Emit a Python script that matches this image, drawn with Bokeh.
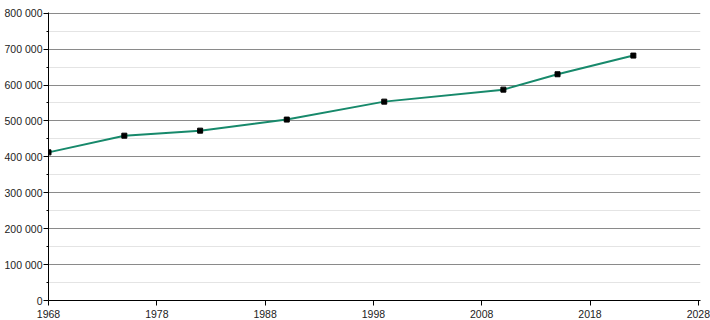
from bokeh.plotting import figure
from bokeh.models import Range1d, FixedTicker
from bokeh.embed import file_html
from bokeh.resources import INLINE

years = [1968, 1975, 1982, 1990, 1999, 2010, 2015, 2022]
population = [412500, 459000, 473000, 503800, 553800, 587200, 630000, 682000]

x_ticks = [1968, 1978, 1988, 1998, 2008, 2018, 2028]
y_ticks = [0, 100000, 200000, 300000, 400000, 500000, 600000, 700000, 800000]
y_minor = [50000, 150000, 250000, 350000, 450000, 550000, 650000, 750000]
y_labels = ["0", "100 000", "200 000", "300 000", "400 000", "500 000", "600 000", "700 000", "800 000"]

p = figure(width=710, height=320, output_backend="svg", toolbar_location=None,
           x_range=Range1d(1968, 2028.2), y_range=Range1d(0, 802000),
           min_border_left=48, min_border_right=10, min_border_top=12, min_border_bottom=20)
p.outline_line_color = None
p.background_fill_color = "white"

p.xaxis.ticker = FixedTicker(ticks=x_ticks, minor_ticks=[])
p.yaxis.ticker = FixedTicker(ticks=y_ticks, minor_ticks=y_minor)
p.yaxis.major_label_overrides = {t: l for t, l in zip(y_ticks, y_labels)}

for ax in (p.xaxis, p.yaxis):
    ax.axis_line_color = "black"
    ax.major_tick_line_color = "black"
    ax.minor_tick_line_color = "black"
    ax.major_tick_in = 0
    ax.major_tick_out = 5
    ax.minor_tick_in = 0
    ax.minor_tick_out = 2
    ax.major_label_text_font = "Liberation Sans"
    ax.major_label_text_font_size = "10.5px"
    ax.major_label_text_color = "#222222"
p.xaxis.major_label_standoff = 4
p.yaxis.major_label_standoff = 1

p.xgrid.grid_line_color = None
p.ygrid.grid_line_color = "#8a8a8a"
p.ygrid.grid_line_width = 1
p.ygrid.minor_grid_line_color = "#e4e4e4"
p.ygrid.minor_grid_line_width = 1

p.line(years, population, line_color="#17896b", line_width=2)
p.scatter(years, population, marker="square", size=5, fill_color="black", line_color="black")

open("out.html", "w").write(file_html(p, INLINE))
